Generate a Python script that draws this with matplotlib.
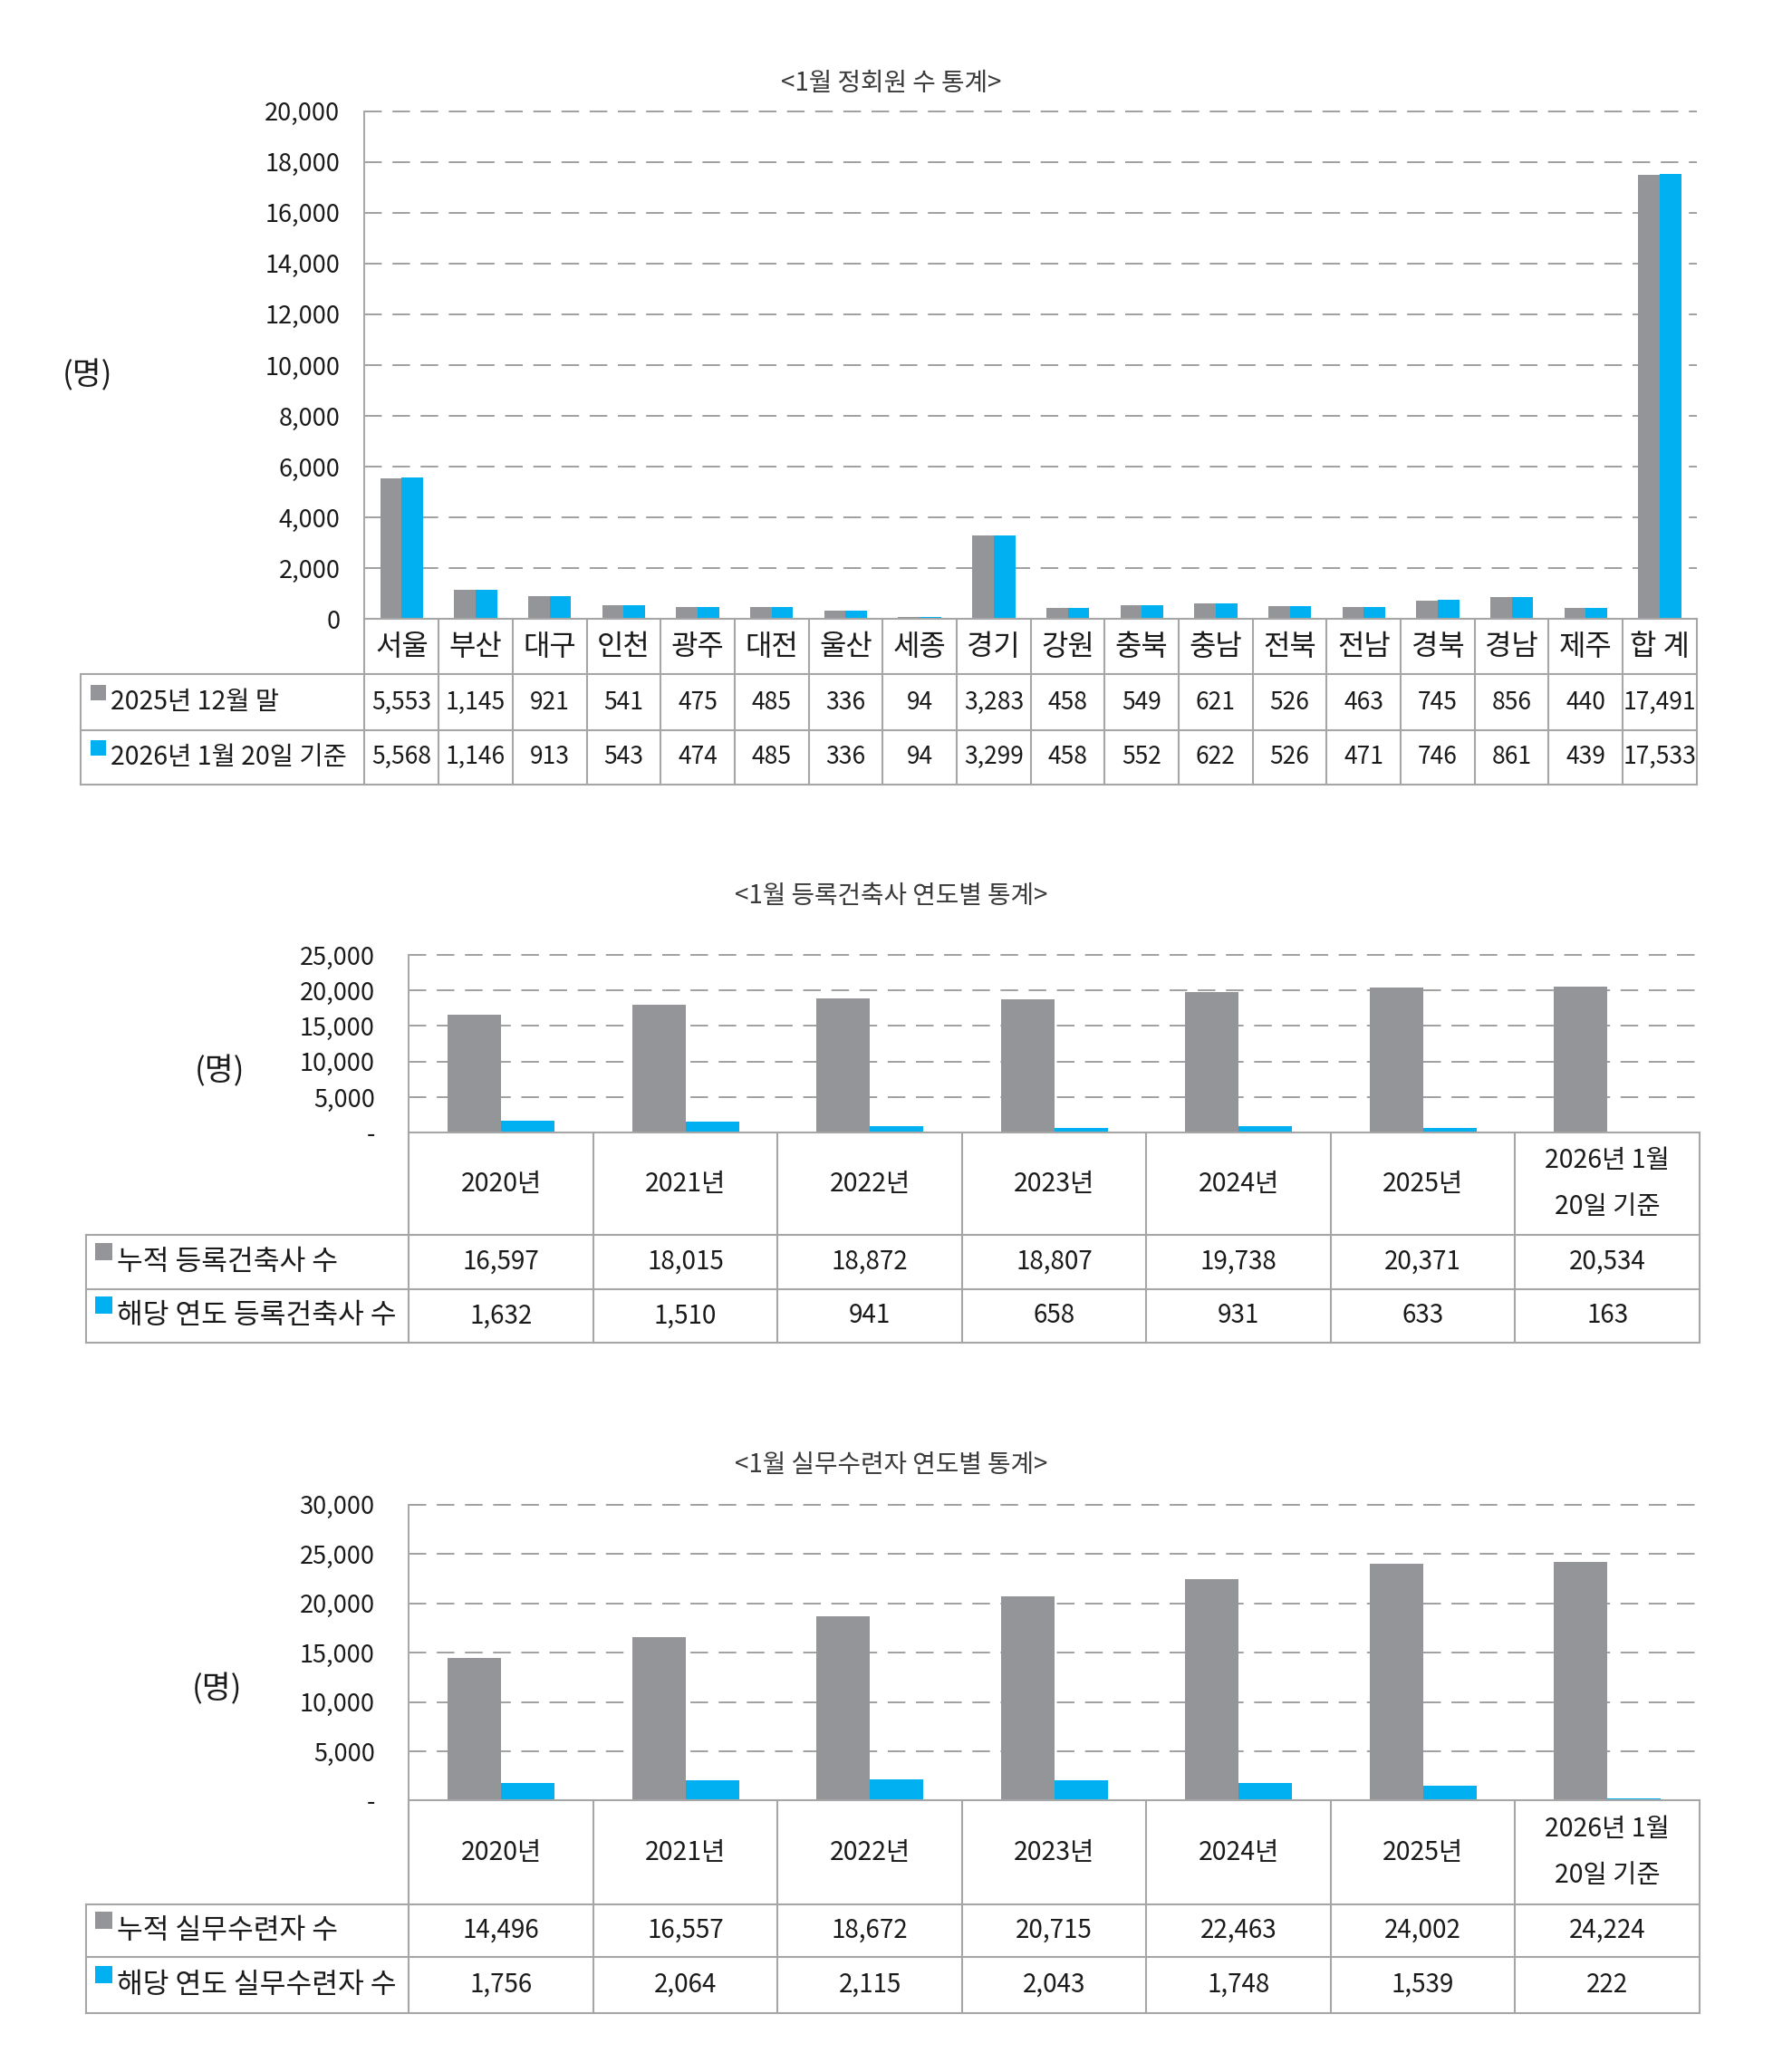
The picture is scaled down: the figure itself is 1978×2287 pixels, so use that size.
import matplotlib
matplotlib.use('Agg')
import matplotlib.pyplot as plt
import numpy as np
from matplotlib.patches import Rectangle

plt.rcParams['font.family'] = ['Noto Sans CJK KR', 'DejaVu Sans']

# ---------------- data ----------------
regions = ['서울', '부산', '대구', '인천', '광주', '대전', '울산', '세종', '경기',
           '강원', '충북', '충남', '전북', '전남', '경북', '경남', '제주', '합 계']
members_2025_dec = [5553, 1145, 921, 541, 475, 485, 336, 94, 3283,
                    458, 549, 621, 526, 463, 745, 856, 440, 17491]
members_2026_jan = [5568, 1146, 913, 543, 474, 485, 336, 94, 3299,
                    458, 552, 622, 526, 471, 746, 861, 439, 17533]
series1_labels = ['2025년 12월 말', '2026년 1월 20일 기준']
title1 = '<1월 정회원 수 통계>'

years = ['2020년', '2021년', '2022년', '2023년', '2024년', '2025년', '2026년 1월\n20일 기준']
arch_cum = [16597, 18015, 18872, 18807, 19738, 20371, 20534]
arch_year = [1632, 1510, 941, 658, 931, 633, 163]
series2_labels = ['누적 등록건축사 수', '해당 연도 등록건축사 수']
title2 = '<1월 등록건축사 연도별 통계>'

trainee_cum = [14496, 16557, 18672, 20715, 22463, 24002, 24224]
trainee_year = [1756, 2064, 2115, 2043, 1748, 1539, 222]
series3_labels = ['누적 실무수련자 수', '해당 연도 실무수련자 수']
title3 = '<1월 실무수련자 연도별 통계>'

unit_label = '(명)'

# ---------------- style ----------------
W, H = 1978, 2287
K = 0.9962
GRAY = '#949599'
BLUE = '#00B0F0'
LINE = '#a6a6a6'
GRID = '#a0a0a0'
TXT = '#1a1a1a'

fig = plt.figure(figsize=(W / 100, H / 100), dpi=100)
ov = fig.add_axes([0, 0, 1, 1], zorder=5)
ov.set_xlim(0, W)
ov.set_ylim(H, 0)
ov.axis('off')


def panel(cats, s1, s2, labels, title, ymax, ystep, zero_label, g):
    n = len(cats)
    left, right, top, bottom = g['left'] * K, g['right'] * K, g['top'] * K, g['bottom'] * K
    ax = fig.add_axes([left / W, 1 - bottom / H, (right - left) / W, (bottom - top) / H], zorder=2)
    x = np.arange(n)
    bw = g['bw']
    ax.bar(x - bw / 2, s1, bw, color=GRAY, zorder=3, linewidth=0)
    ax.bar(x + bw / 2, s2, bw, color=BLUE, zorder=3, linewidth=0)
    ax.set_xlim(-0.5, n - 0.5)
    ax.set_ylim(0, ymax)
    ticks = list(range(0, ymax + 1, ystep))
    ax.set_yticks(ticks)
    ax.set_yticklabels([zero_label if t == 0 else f'{t:,}' for t in ticks],
                       fontsize=g['tick_fs'], color=TXT)
    ax.tick_params(axis='y', length=0, pad=g['tick_pad'])
    ax.set_xticks([])
    ax.yaxis.grid(True, color=GRID, linewidth=1.4, linestyle=(0, (10, 6)))
    ax.set_axisbelow(True)
    for i, gl in enumerate(ax.get_ygridlines()):
        gl.set_clip_on(False)
        if i == 0:
            gl.set_visible(False)
    for s in ['top', 'right', 'bottom']:
        ax.spines[s].set_visible(False)
    ax.spines['left'].set_color(LINE)
    ax.spines['left'].set_linewidth(1.4)
    ax.patch.set_alpha(0)

    # title and unit
    ov.text(g['title_x'] * K, g['title_y'] * K, title, ha='center', va='center',
            fontsize=g['title_fs'], color='#3a3a3a')
    ov.text(g['unit_x'] * K, g['unit_y'] * K, unit_label, ha='center', va='center',
            fontsize=g['unit_fs'], color=TXT)

    # table grid
    cb, r1, r2 = [v * K for v in g['rows']]
    tl = g['table_left'] * K
    colw = (right - left) / n
    lw = 1.5
    ov.plot([left, right], [bottom, bottom], color=LINE, lw=lw)
    for yy in (cb, r1, r2):
        ov.plot([tl, right], [yy, yy], color=LINE, lw=lw)
    ov.plot([tl, tl], [cb, r2], color=LINE, lw=lw)
    for i in range(n + 1):
        xx = left + i * colw
        ov.plot([xx, xx], [bottom, r2], color=LINE, lw=lw)

    # category labels
    for i, c in enumerate(cats):
        ov.text(left + (i + 0.5) * colw, (bottom + cb) / 2, c,
                ha='center', va='center', fontsize=g['cat_fs'], color=TXT,
                linespacing=g.get('ls', 1.2))
    # values
    for row_vals, (ya, yb) in ((s1, (cb, r1)), (s2, (r1, r2))):
        cy = (ya + yb) / 2
        for i, v in enumerate(row_vals):
            ov.text(left + (i + 0.5) * colw, cy, f'{v:,}', ha='center', va='center',
                    fontsize=g['val_fs'], color=TXT)
    # legend cells
    mx = g['mx'] * K
    for lab, col, (ya, yb) in ((labels[0], GRAY, (cb, r1)), (labels[1], BLUE, (r1, r2))):
        cy = (ya + yb) / 2
        ms = g['ms']
        ov.add_patch(Rectangle((mx, cy - ms - 2), ms, ms, color=col, lw=0))
        ov.text(mx + ms + 5, cy, lab, ha='left', va='center',
                fontsize=g['lab_fs'], color=TXT)


panel(regions, members_2025_dec, members_2026_jan, series1_labels, title1,
      20000, 2000, '0',
      dict(left=404, right=1880, top=123, bottom=686, bw=0.29,
           rows=(747, 809, 869), table_left=89,
           title_x=987, title_y=92, title_fs=20,
           unit_x=97, unit_y=416, unit_fs=25,
           tick_fs=19.5, tick_pad=19.5,
           cat_fs=23, val_fs=19, lab_fs=20.5, mx=100, ms=17))

panel(years, arch_cum, arch_year, series2_labels, title2,
      25000, 5000, '-',
      dict(left=453, right=1883, top=1058, bottom=1255, bw=0.29,
           rows=(1368, 1428, 1488), table_left=95,
           title_x=987, title_y=993, title_fs=20,
           unit_x=243, unit_y=1187, unit_fs=25,
           tick_fs=19.5, tick_pad=27,
           cat_fs=20.5, ls=1.9, val_fs=20, lab_fs=22.5, mx=105, ms=19))

panel(years, trainee_cum, trainee_year, series3_labels, title3,
      30000, 5000, '-',
      dict(left=453, right=1883, top=1667, bottom=1995, bw=0.29,
           rows=(2110, 2168, 2230), table_left=95,
           title_x=987, title_y=1623, title_fs=20,
           unit_x=240, unit_y=1872, unit_fs=25,
           tick_fs=19.5, tick_pad=27,
           cat_fs=20.5, ls=1.9, val_fs=20, lab_fs=22.5, mx=105, ms=19))

fig.savefig('out.png', dpi=100, facecolor='white')
